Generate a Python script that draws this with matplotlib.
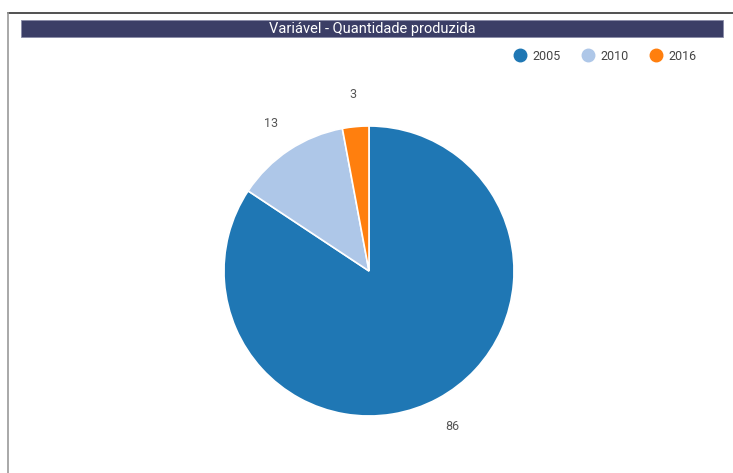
import matplotlib.pyplot as plt
from matplotlib.patches import Rectangle
from matplotlib.lines import Line2D

# Dados
anos = ["2005", "2010", "2016"]
quantidade = [86, 13, 3]
cores = ["#1f77b4", "#aec7e8", "#ff7f0e"]
titulo = "Variável - Quantidade produzida"

W, H = 733, 473
fig = plt.figure(figsize=(W / 100, H / 100), dpi=100)
fig.patch.set_facecolor("white")


def px(x, y):
    # pixels (origem no topo) -> fração da figura
    return x / W, 1 - y / H


# Moldura
x0, y0 = px(8, 13)
fig.add_artist(Line2D([x0, 1.0], [y0, y0], color="#333333", lw=1.2, transform=fig.transFigure))
fig.add_artist(Line2D([x0, x0], [y0, 0.0], color="#999999", lw=1.2, transform=fig.transFigure))

# Faixa do título
bx, by = px(21, 37)
bw = (723 - 21) / W
bh = (37 - 20) / H
fig.add_artist(Rectangle((bx, by), bw, bh, facecolor="#3b3e66", edgecolor="#8a8ca8",
                         lw=0.6, transform=fig.transFigure))
fig.text(bx + bw / 2, by + bh / 2, titulo, color="white", fontsize=10.5,
         family="Roboto", ha="center", va="center")

# Pizza
ax = fig.add_axes([224 / W, (H - 416) / H, 290 / W, 290 / H])
wedges, textos = ax.pie(
    quantidade,
    labels=[str(v) for v in quantidade],
    colors=cores,
    startangle=90,
    counterclock=False,
    labeldistance=1.22,
    wedgeprops=dict(edgecolor="white", linewidth=1.2),
    textprops=dict(color="#555555", fontsize=9, family="Roboto"),
)
for t in textos:
    t.set_ha("center")
    t.set_va("center")
    t.set_clip_on(False)
ax.set_xlim(-1, 1)
ax.set_ylim(-1, 1)
ax.set_aspect("equal")

# Legenda
handles = [Line2D([], [], marker="o", ls="", markersize=9, color=c) for c in cores]
fig.legend(handles, anos, loc="center right", bbox_to_anchor=px(708, 56),
           ncol=3, frameon=False, handletextpad=0.0, columnspacing=1.2,
           prop=dict(family="Roboto", size=9), labelcolor="#444444")

fig.savefig("out.png", dpi=100)
